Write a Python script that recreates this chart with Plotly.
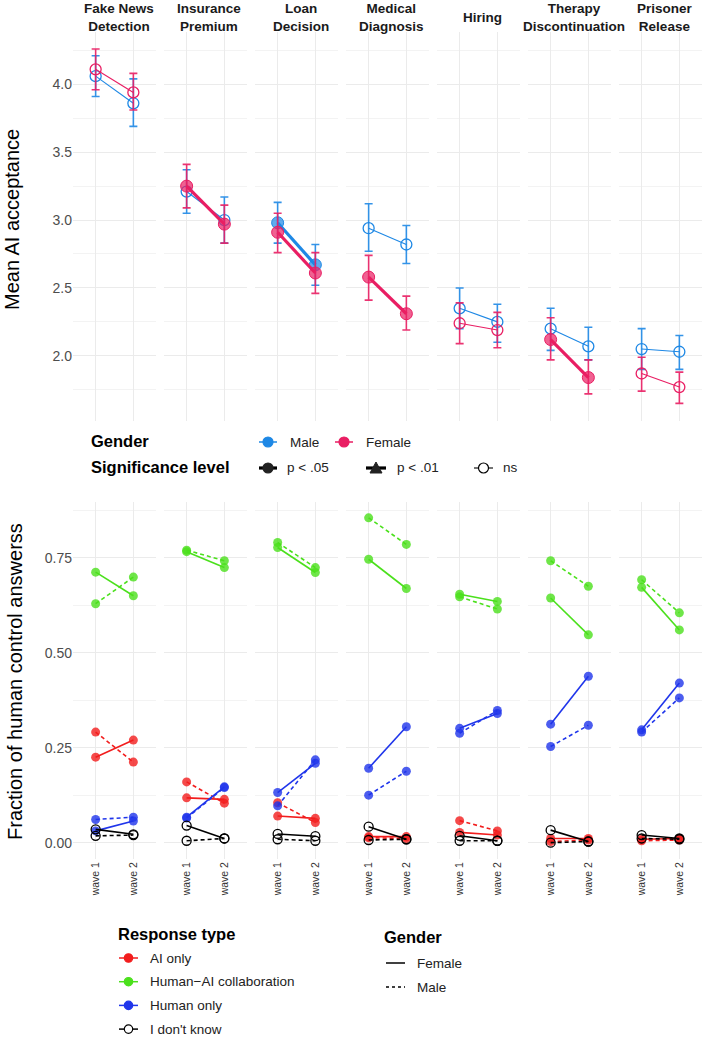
import plotly.graph_objects as go

W, H = 713, 1040

tasks = ['Fake News<br>Detection', 'Insurance<br>Premium', 'Loan<br>Decision',
         'Medical<br>Diagnosis', 'Hiring', 'Therapy<br>Discontinuation',
         'Prisoner<br>Release']
waves = ['wave 1', 'wave 2']

# top panel: mean AI acceptance, [wave 1, wave 2] per task
male_mean = [[4.06, 3.86], [3.21, 3.00], [2.98, 2.67], [2.94, 2.82],
             [2.35, 2.25], [2.20, 2.07], [2.05, 2.03]]
male_lo = [[3.91, 3.69], [3.05, 2.83], [2.83, 2.52], [2.77, 2.68],
           [2.20, 2.10], [2.04, 1.97], [1.90, 1.90]]
male_hi = [[4.21, 4.04], [3.37, 3.17], [3.13, 2.82], [3.12, 2.96],
           [2.50, 2.38], [2.35, 2.21], [2.20, 2.15]]
female_mean = [[4.11, 3.94], [3.25, 2.97], [2.91, 2.61], [2.58, 2.31],
               [2.24, 2.19], [2.12, 1.84], [1.87, 1.77]]
female_lo = [[3.96, 3.81], [3.09, 2.83], [2.76, 2.46], [2.41, 2.19],
             [2.09, 2.06], [1.97, 1.72], [1.74, 1.65]]
female_hi = [[4.26, 4.08], [3.41, 3.11], [3.05, 2.76], [2.74, 2.44],
             [2.39, 2.32], [2.28, 1.97], [1.99, 1.88]]
male_sig = ['ns', 'ns', 'p < .05', 'ns', 'ns', 'ns', 'ns']
female_sig = ['ns', 'p < .05', 'p < .05', 'p < .05', 'ns', 'p < .05', 'ns']

# bottom panel: fraction of human control answers, [wave 1, wave 2] per task
ai_only_f = [[0.225, 0.270], [0.118, 0.114], [0.070, 0.064], [0.016, 0.016],
             [0.027, 0.020], [0.011, 0.011], [0.009, 0.011]]
ai_only_m = [[0.291, 0.212], [0.160, 0.104], [0.105, 0.053], [0.013, 0.011],
             [0.058, 0.031], [0.003, 0.007], [0.005, 0.007]]
collab_f = [[0.712, 0.650], [0.766, 0.724], [0.777, 0.711], [0.746, 0.669],
            [0.654, 0.635], [0.644, 0.547], [0.672, 0.560]]
collab_m = [[0.629, 0.699], [0.770, 0.742], [0.790, 0.724], [0.855, 0.785],
            [0.647, 0.615], [0.742, 0.675], [0.692, 0.605]]
human_f = [[0.031, 0.057], [0.067, 0.147], [0.132, 0.209], [0.196, 0.305],
           [0.301, 0.340], [0.312, 0.438], [0.297, 0.420]]
human_m = [[0.061, 0.067], [0.065, 0.145], [0.097, 0.218], [0.125, 0.188],
           [0.288, 0.348], [0.253, 0.309], [0.291, 0.381]]
dontknow_f = [[0.035, 0.022], [0.045, 0.011], [0.023, 0.017], [0.042, 0.009],
              [0.018, 0.005], [0.033, 0.003], [0.020, 0.011]]
dontknow_m = [[0.018, 0.020], [0.005, 0.011], [0.009, 0.005], [0.007, 0.009],
              [0.005, 0.005], [0.000, 0.003], [0.011, 0.009]]

FONT = 'Liberation Sans, Arial, sans-serif'
BLUE, PINK = '#1E88E5', '#E91E63'
RESP = [('AI only', '#F21D1D', ai_only_f, ai_only_m),
        ('Human\u2212AI collaboration', '#4BE01C', collab_f, collab_m),
        ('Human only', '#1F35EB', human_f, human_m),
        ("I don't know", '#000000', dontknow_f, dontknow_m)]
GRID, MINOR = '#EBEBEB', '#F3F3F3'


def px(x):
    return x / W


def py(y):
    return 1 - y / H


def rgba(hexc, a):
    h = hexc.lstrip('#')
    return f'rgba({int(h[0:2], 16)},{int(h[2:4], 16)},{int(h[4:6], 16)},{a})'


def ax(k):
    return '' if k == 1 else str(k)


fig = go.Figure()

# top row
for i in range(7):
    k = i + 1
    for mean, lo, hi, sig, col in [(male_mean, male_lo, male_hi, male_sig, BLUE),
                                   (female_mean, female_lo, female_hi, female_sig, PINK)]:
        s = sig[i] != 'ns'
        fig.add_trace(go.Scatter(
            x=waves, y=mean[i], mode='lines+markers',
            xaxis='x' + ax(k), yaxis='y' + ax(k), showlegend=False,
            line=dict(color=col, width=3.2 if s else 1.1),
            marker=dict(symbol='circle' if s else 'circle-open', size=12 if s else 11,
                        color=rgba(col, 0.7) if s else col,
                        line=dict(color=col, width=1 if s else 1.3)),
            error_y=dict(type='data', symmetric=False,
                         array=[h - m for h, m in zip(hi[i], mean[i])],
                         arrayminus=[m - l for m, l in zip(mean[i], lo[i])],
                         color=rgba(col, 0.9), thickness=1.6, width=4),
        ))

# bottom row
for i in range(7):
    k = i + 8
    for name, col, fem, mal in RESP:
        open_mk = name == "I don't know"
        for vals, dash in [(mal, '4px,3px'), (fem, 'solid')]:
            fig.add_trace(go.Scatter(
                x=waves, y=vals[i], mode='lines+markers',
                xaxis='x' + ax(k), yaxis='y' + ax(k), showlegend=False,
                line=dict(color=col, width=1.6, dash=dash),
                marker=dict(symbol='circle-open' if open_mk else 'circle', size=9,
                            color=col if open_mk else rgba(col, 0.8),
                            line=dict(color=col, width=1.3 if open_mk else 0)),
            ))

layout = dict(width=W, height=H, margin=dict(l=0, r=0, t=0, b=0),
              paper_bgcolor='white', plot_bgcolor='white',
              font=dict(family=FONT, color='#4D4D4D'), showlegend=False)

for i in range(7):
    x0, x1 = 73 + 91 * i, 156 + 91 * i
    for row in (0, 1):
        k = i + 1 + 7 * row
        layout['xaxis' + ax(k)] = dict(
            domain=[px(x0), px(x1)], anchor='y' + ax(k), type='category',
            range=[-0.6, 1.6], showgrid=True, gridcolor=GRID, gridwidth=1.4,
            zeroline=False, showline=False, ticks='',
            showticklabels=(row == 1), tickangle=-90,
            tickfont=dict(size=10.5, color='#333333', family=FONT))
        if row == 0:
            yd, yr = [py(421), py(32)], [1.52, 4.385]
            tv, mv, fmt = [2.0, 2.5, 3.0, 3.5, 4.0], [1.75, 2.25, 2.75, 3.25, 3.75, 4.25], '.1f'
        else:
            yd, yr = [py(859), py(501.5)], [-0.043, 0.898]
            tv, mv, fmt = [0, 0.25, 0.5, 0.75], [0.125, 0.375, 0.625, 0.875], '.2f'
        layout['yaxis' + ax(k)] = dict(
            domain=yd, anchor='x' + ax(k), range=yr, tickvals=tv, tickformat=fmt,
            showgrid=True, gridcolor=GRID, gridwidth=1.4, zeroline=False,
            showline=False, ticks='', showticklabels=(i == 0),
            tickfont=dict(size=14, color='#4D4D4D', family=FONT),
            minor=dict(tickvals=mv, showgrid=True, gridcolor=MINOR, gridwidth=0.8))

fig.update_layout(**layout)

# facet strip titles
for i, t in enumerate(tasks):
    fig.add_annotation(x=px(73 + 91 * i + 41.5 + 4), y=py(17), xref='paper', yref='paper',
                       text=f'<b>{t}</b>', showarrow=False, xanchor='center', yanchor='middle',
                       font=dict(size=13.5, color='#1A1A1A', family=FONT))

# axis titles
fig.add_annotation(x=px(12), y=py(220), xref='paper', yref='paper', text='Mean AI acceptance',
                   textangle=-90, showarrow=False, xanchor='center', yanchor='middle',
                   font=dict(size=20, color='black', family=FONT))
fig.add_annotation(x=px(15), y=py(682), xref='paper', yref='paper',
                   text='Fraction of human control answerss', textangle=-90, showarrow=False,
                   xanchor='center', yanchor='middle',
                   font=dict(size=20, color='black', family=FONT))


def text(x, y, s, size=13.5, bold=False, color='#222222'):
    fig.add_annotation(x=px(x), y=py(y), xref='paper', yref='paper',
                       text=f'<b>{s}</b>' if bold else s, showarrow=False,
                       xanchor='left', yanchor='middle',
                       font=dict(size=size, color=color, family=FONT))


def key_line(x0, x1, y, color, width, dash='solid'):
    fig.add_shape(type='line', xref='paper', yref='paper', x0=px(x0), x1=px(x1),
                  y0=py(y), y1=py(y), line=dict(color=color, width=width, dash=dash))


def key_dot(cx, cy, r, color, fill=True, lw=1.2):
    fig.add_shape(type='circle', xref='paper', yref='paper',
                  x0=px(cx - r), x1=px(cx + r), y0=py(cy + r), y1=py(cy - r),
                  fillcolor=color if fill else 'white', line=dict(color=color, width=lw))


# middle legend
text(89, 441, 'Gender', 16.5, True, 'black')
text(89, 467, 'Significance level', 16.5, True, 'black')
for cx, lbl, col in [(268, 'Male', BLUE), (344, 'Female', PINK)]:
    key_line(cx - 9, cx + 9, 442, col, 1.5)
    key_dot(cx, 442, 5, col)
    text(cx + 20, 442, lbl)
key_line(259, 277, 468, 'black', 3.2)
key_dot(268, 468, 5, '#222222')
text(285, 468, 'p < .05')
key_line(366, 386, 468, 'black', 3.2)
fig.add_shape(type='path', xref='paper', yref='paper', fillcolor='#222222',
              line=dict(color='#222222', width=1),
              path=f'M {px(370)},{py(473)} L {px(382)},{py(473)} L {px(376)},{py(462)} Z')
text(395, 468, 'p < .01')
key_line(474, 493, 468, 'black', 1.1)
key_dot(483.5, 468, 5, 'black', fill=False)
text(501, 468, 'ns')

# bottom legend
text(116, 934, 'Response type', 16.5, True, 'black')
for j, (name, col, _, _) in enumerate(RESP):
    yy = 958 + j * 23.7
    key_line(119, 138, yy, col, 1.5)
    key_dot(128.5, yy, 4.2, col, fill=(j < 3))
    text(148, yy, name)
text(382, 937, 'Gender', 16.5, True, 'black')
key_line(386, 405, 963, 'black', 1.5)
text(415, 963, 'Female')
key_line(386, 405, 987, 'black', 1.5, '3px,3px')
text(415, 987, 'Male')

fig.write_html('out.html', config={'displayModeBar': False},
               post_script="document.body.style.margin='0';")
